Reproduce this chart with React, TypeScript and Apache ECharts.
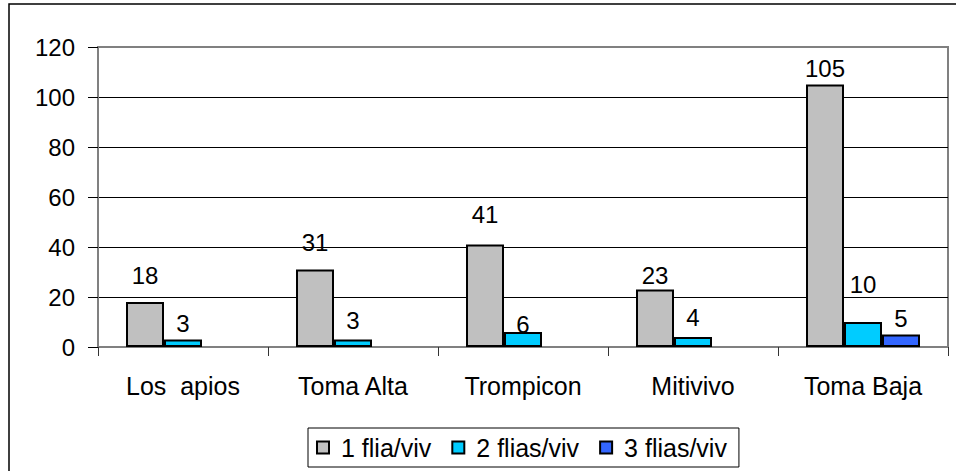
import React, { useEffect, useRef } from "react";
import * as echarts from "echarts";

const categories = ["Los  apios", "Toma Alta", "Trompicon", "Mitivivo", "Toma Baja"];
const seriesNames = ["1 flia/viv", "2 flias/viv", "3 flias/viv"];
const oneFamily = [18, 31, 41, 23, 105];
const twoFamilies = [3, 3, 6, 4, 10];
const threeFamilies: (number | null)[] = [null, null, null, null, 5];
const yTicks = [0, 20, 40, 60, 80, 100, 120];

// label lift above bar tops (styling only)
const liftOne = [15, 15, 18, 2, 4];
const liftTwo = [4, 7, -4, 8, 26];
const liftThree = [4, 4, 4, 4, 4];

const colors = ["#C0C0C0", "#00CCFF", "#3366FF"];
const FONT = "'Liberation Sans', Arial, sans-serif";

export default function App() {
  const ref = useRef<HTMLDivElement>(null);
  useEffect(() => {
    if (!ref.current) return;
    const chart = echarts.init(ref.current, null, { renderer: "svg" });
    const mk = (vals: (number | null)[], lifts: number[]) =>
      vals.map((v, i) => ({
        value: v,
        label: { distance: lifts[i] },
      }));
    const valuesList = [oneFamily, twoFamilies, threeFamilies];
    const liftsList = [liftOne, liftTwo, liftThree];
    chart.setOption({
      animation: false,
      backgroundColor: "#ffffff",
      textStyle: { fontFamily: FONT },
      graphic: [
        {
          type: "rect",
          shape: { x: 9, y: 4, width: 1000, height: 520 },
          style: { fill: "none", stroke: "#000", lineWidth: 1.5 },
          z: 100,
        },
      ],
      grid: {
        left: 98,
        right: 8,
        top: 47,
        bottom: 124,
        show: true,
        borderColor: "#808080",
        borderWidth: 2,
      },
      legend: {
        left: 308,
        top: 428,
        orient: "horizontal",
        borderColor: "#000",
        borderWidth: 1,
        padding: [7, 12, 7, 8],
        itemWidth: 12,
        itemHeight: 12,
        itemGap: 20,
        icon: "rect",
        data: seriesNames,
        textStyle: {
          fontFamily: FONT,
          fontSize: 25,
          color: "#000",
          lineHeight: 25,
          padding: [0, 0, 0, 7],
        },
      },
      xAxis: {
        type: "category",
        data: categories,
        boundaryGap: true,
        axisLine: { lineStyle: { color: "#808080", width: 2 } },
        axisTick: { show: true, length: 9, lineStyle: { color: "#333", width: 1 } },
        axisLabel: { fontFamily: FONT, fontSize: 25, color: "#000", margin: 26 },
      },
      yAxis: {
        type: "value",
        min: yTicks[0],
        max: yTicks[yTicks.length - 1],
        interval: yTicks[1] - yTicks[0],
        axisLine: { show: true, lineStyle: { color: "#808080", width: 2 } },
        axisTick: { show: true, length: 10, lineStyle: { color: "#000", width: 1 } },
        axisLabel: { fontFamily: FONT, fontSize: 24, color: "#000", margin: 23 },
        splitLine: {
          show: true,
          lineStyle: {
            color: ["#808080", "#000", "#000", "#000", "#000", "#000", "#808080"],
            width: 1,
          },
        },
      },
      series: seriesNames.map((name, k) => ({
        name,
        type: "bar",
        barWidth: 38,
        barGap: "0%",
        data: mk(valuesList[k], liftsList[k]),
        itemStyle: { color: colors[k], borderColor: "#000", borderWidth: 2 },
        label: {
          show: true,
          position: "top",
          fontFamily: FONT,
          fontSize: 24,
          color: "#000",
        },
      })),
    });
    return () => chart.dispose();
  }, []);
  return (
    <div
      ref={ref}
      style={{ position: "fixed", left: 0, top: 0, width: 956, height: 471 }}
    />
  );
}
